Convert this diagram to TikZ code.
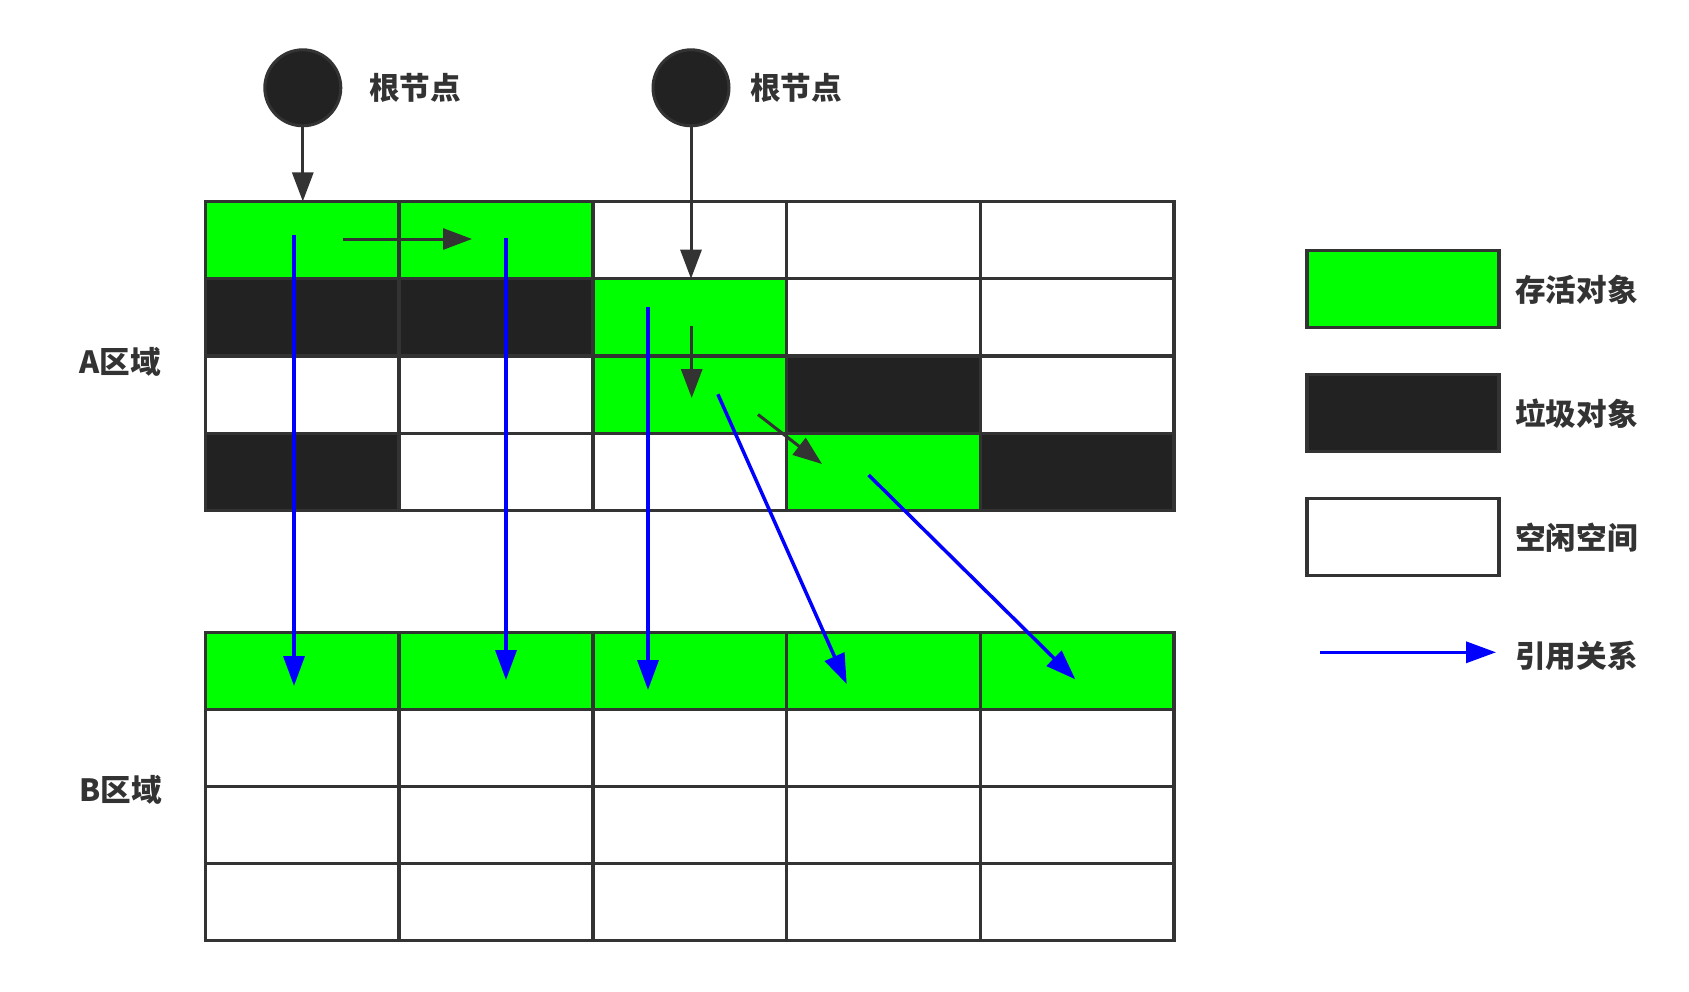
\documentclass[tikz,border=0pt]{standalone}
\usepackage{fontspec}
\newfontfamily\cjk{Noto Sans CJK SC}
\usetikzlibrary{arrows.meta}
\definecolor{ln}{HTML}{333333}
\definecolor{gr}{HTML}{00FF00}
\definecolor{blk}{HTML}{222222}
\definecolor{blu}{HTML}{0000FF}
\begin{document}
\begin{tikzpicture}[x=1pt,y=-1pt,
  cell/.style={draw=ln,line width=3.5pt,minimum width=193.7pt,inner sep=0pt,outer sep=0pt},
  lbl/.style={inner sep=0pt,text=ln,font=\cjk\bfseries\fontsize{30.6}{36}\selectfont},
  root/.style={circle,draw=ln,fill=blk,line width=3pt,minimum size=76pt,inner sep=0pt},
  darrow/.style={draw=ln,line width=3pt,-{Triangle[length=29pt,width=21pt]}},
  barrow/.style={draw=blu,line width=3.5pt,-{Triangle[length=30pt,width=21pt]}},
  legbox/.style={draw=ln,line width=3.5pt,minimum width=192pt,minimum height=77pt,inner sep=0pt}]
\fill[white] (0,0) rectangle (1689,991);
\useasboundingbox (0,0) rectangle (1689,991);
% A region
\foreach \r/\c/\f in {1/1/gr,1/2/gr,1/3/white,1/4/white,1/5/white,
  2/1/blk,2/2/blk,2/3/gr,2/4/white,2/5/white,
  3/1/white,3/2/white,3/3/gr,3/4/blk,3/5/white,
  4/1/blk,4/2/white,4/3/white,4/4/gr,4/5/blk}
  \node[cell,fill=\f,minimum height=77.3pt] (a\r\c) at ({205.5+(\c-0.5)*193.7},{201.4+(\r-0.5)*77.3}) {};
% B region
\foreach \r/\c/\f in {1/1/gr,1/2/gr,1/3/gr,1/4/gr,1/5/gr,
  2/1/white,2/2/white,2/3/white,2/4/white,2/5/white,
  3/1/white,3/2/white,3/3/white,3/4/white,3/5/white,
  4/1/white,4/2/white,4/3/white,4/4/white,4/5/white}
  \node[cell,fill=\f,minimum height=77pt] (b\r\c) at ({205.5+(\c-0.5)*193.7},{632.3+(\r-0.5)*77}) {};
% region labels
\node[lbl] (la) at (120.5,362) {A区域};
\node[lbl] (lb) at (120.5,790) {B区域};
% roots
\node[root] (r1) at (302.8,87.8) {};
\node[root] (r2) at (691,87.8) {};
\node[lbl,anchor=west] (t1) at (369,88) {根节点};
\node[lbl,anchor=west] (t2) at (750,88) {根节点};
% dark reference arrows
\draw[darrow] (r1.south) -- (r1.south |- a11.north);
\draw[darrow] (r2.south) -- (r2.south |- a23.north);
\coordinate (d1s) at (342.5,239);
\coordinate (d1e) at (472,239);
\coordinate (d2s) at (691.7,326);
\coordinate (d2e) at (691.7,398);
\coordinate (d3s) at (758,414.5);
\coordinate (d3e) at (822,464);
\draw[darrow] (d1s) -- (d1e);
\draw[darrow] (d2s) -- (d2e);
\draw[darrow] (d3s) -- (d3e);
% blue copy arrows
\coordinate (c1s) at (294,234.8);
\coordinate (c1e) at (294,686);
\coordinate (c2s) at (506,238.3);
\coordinate (c2e) at (506,680);
\coordinate (c3s) at (648,306.7);
\coordinate (c3e) at (648,690);
\coordinate (c4s) at (717.9,394.3);
\coordinate (c4e) at (846.7,684);
\coordinate (c5s) at (868.6,475);
\coordinate (c5e) at (1075.3,679.3);
\draw[barrow] (c1s) -- (c1e);
\draw[barrow] (c2s) -- (c2e);
\draw[barrow] (c3s) -- (c3e);
\draw[barrow] (c4s) -- (c4e);
\draw[barrow] (c5s) -- (c5e);
% legend
\node[legbox,fill=gr] (g1) at (1403,288.8) {};
\node[legbox,fill=blk] (g2) at (1403,412.8) {};
\node[legbox,fill=white] (g3) at (1403,537) {};
\node[lbl,anchor=west] (gt1) at (1515,290) {存活对象};
\node[lbl,anchor=west] (gt2) at (1515,414) {垃圾对象};
\node[lbl,anchor=west] (gt3) at (1515,538) {空闲空间};
\node[lbl,anchor=west] (gt4) at (1515,656) {引用关系};
\coordinate (l1) at (1320,652.3);
\coordinate (l2) at (1496,652.3);
\draw[barrow] (l1) -- (l2);
\end{tikzpicture}
\end{document}
